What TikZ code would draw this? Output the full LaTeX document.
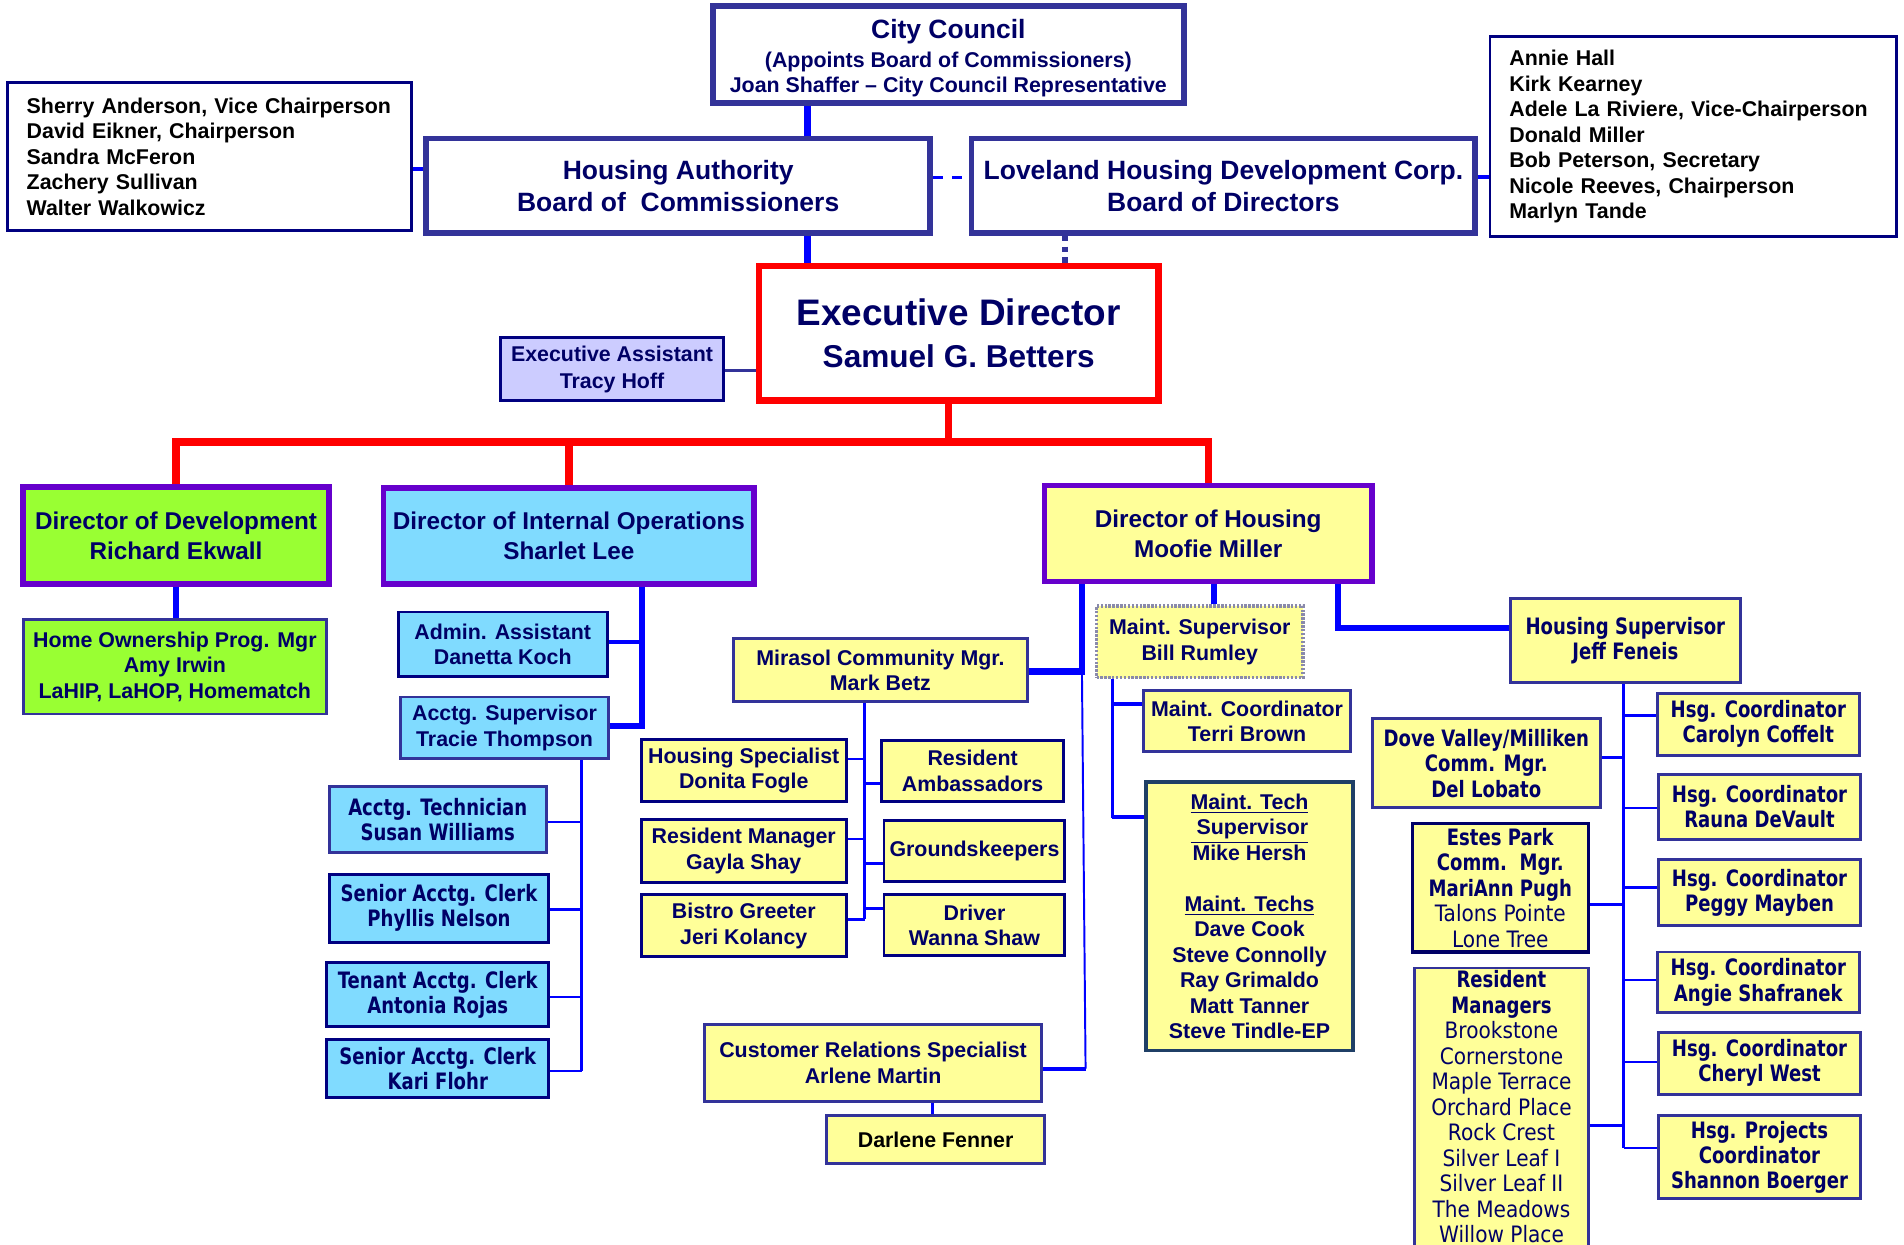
\documentclass[tikz,border=0pt]{standalone}
\usepackage{fontspec}
\setmainfont{Liberation Sans}
\newfontfamily\vdfont[FakeStretch=0.8]{DejaVu Sans}
\newfontfamily\vdreg[FakeStretch=0.89]{DejaVu Sans}
\usetikzlibrary{calc}
\definecolor{navy}{HTML}{000066}
\definecolor{bdA}{HTML}{333399}
\definecolor{bdB}{HTML}{000080}
\definecolor{teal}{HTML}{1F3F66}
\definecolor{lnk}{HTML}{0000FF}
\definecolor{purp}{HTML}{6600CC}
\definecolor{yel}{HTML}{FFFF99}
\definecolor{cya}{HTML}{80DBFF}
\definecolor{grn}{HTML}{99FF33}
\definecolor{lav}{HTML}{CCCCFF}
\definecolor{dotgray}{HTML}{8A8AAA}
\newcommand\ffa{\fontsize{8.8}{10.5}\selectfont\bfseries}
\newcommand\ffd{\fontsize{10}{12.3}\selectfont\bfseries}
\newcommand\ffh{\fontsize{10.9}{13}\selectfont\bfseries}
\newcommand\ffv{\vdfont\fontsize{9.3}{10.3}\selectfont\bfseries}
\newcommand\ffvr{\vdfont\fontsize{9.3}{10.5}\selectfont\bfseries}
\newcommand\rl{\vdreg\fontsize{9.3}{10.5}\selectfont\mdseries}
\newcommand\bx[7]{\node[#6, minimum width={(#4-#2)*0.5pt}, minimum height={(#5-#3)*0.5pt}] (#1) at ({(#2+#4)/2},{(#3+#5)/2}) {#7};}
\tikzset{
  box/.style={draw, rectangle, inner sep=0pt, align=center, text=navy},
  topbox/.style={box, draw=bdA, line width=2.4pt, fill=white, font=\ffh},
  mem/.style={box, draw=bdB, line width=1.1pt, fill=white, text=black, font=\ffa, align=left, inner xsep=8pt},
  dirbox/.style={box, draw=purp, line width=2.2pt, font=\ffd},
  ybox/.style={box, draw=bdA, line width=1.2pt, fill=yel, font=\ffa},
  yboxd/.style={ybox, draw=bdB},
  cbox/.style={box, draw=bdA, line width=1.2pt, fill=cya, font=\ffa},
  cboxd/.style={cbox, draw=bdB},
  vbox/.style={ybox, font=\ffv},
  bthick/.style={draw=lnk, line width=2.5pt},
  bmid/.style={draw=lnk, line width=1.6pt},
  bthin/.style={draw=lnk, line width=1.1pt},
  bhair/.style={draw=lnk, line width=0.8pt},
  redl/.style={draw=red, line width=3pt},
}
\begin{document}
\begin{tikzpicture}[x=0.5pt,y=-0.5pt]
\useasboundingbox (0,0) rectangle (1568,1025.3);
\clip (0,0) rectangle (1568,1025.3);
% ---------- top level ----------
\bx{cc}{587}{5}{975}{85}{topbox, font=\ffa}{\ffh\rule{0pt}{11pt}City Council\\[1.2pt](Appoints Board of Commissioners)\\Joan Shaffer – City Council Representative}
\node[mem, text width=150.5pt, minimum height={122*0.5pt}] (mleft) at ({(6+339)/2},{(68+190)/2}) {Sherry Anderson, Vice Chairperson\\David Eikner, Chairperson\\Sandra McFeron\\Zachery Sullivan\\Walter Walkowicz};
\node[mem, text width=151.5pt, minimum height={165*0.5pt}] (mright) at ({(1227+1562)/2},{(30+195)/2}) {Annie Hall\\Kirk Kearney\\Adele La Riviere, Vice-Chairperson\\Donald Miller\\Bob Peterson, Secretary\\Nicole Reeves, Chairperson\\Marlyn Tande};
\bx{ha}{351}{114}{766}{192}{topbox}{Housing Authority\\Board of\ \ Commissioners}
\bx{lhdc}{800}{114}{1215}{192}{topbox}{Loveland Housing Development Corp.\\Board of Directors}
\bx{ed}{625}{219}{954}{330}{box, draw=red, line width=2.7pt, fill=white, font=\fontsize{15.2}{17.4}\selectfont\bfseries}{Executive Director\\\fontsize{13}{17}\selectfont Samuel G. Betters}
\bx{ea}{412}{278}{596}{330}{box, draw=bdB, line width=1.1pt, fill=lav, font={\fontsize{8.8}{11}\selectfont\bfseries}}{Executive Assistant\\Tracy Hoff}
% ---------- directors ----------
\bx{dd}{19}{401}{271}{481}{dirbox, fill=grn}{Director of Development\\Richard Ekwall}
\bx{dio}{316}{402}{621}{481}{dirbox, fill=cya}{Director of Internal Operations\\Sharlet Lee}
\bx{dh}{860}{400}{1130}{479}{dirbox, fill=yel}{Director of Housing\\Moofie Miller}
% ---------- development ----------
\bx{hop}{19}{510}{269}{588}{box, draw=bdA, line width=1.2pt, fill=grn, font=\ffa}{Home Ownership Prog. Mgr\\Amy Irwin\\LaHIP, LaHOP, Homematch}
% ---------- internal operations ----------
\bx{aa}{328}{504}{500}{557}{cboxd}{Admin. Assistant\\Danetta Koch}
\bx{as}{330}{574}{501}{625}{cbox}{Acctg. Supervisor\\Tracie Thompson}
\bx{at}{271}{648}{450}{702}{cbox, font=\ffv}{Acctg. Technician\\Susan Williams}
\bx{sac1}{271}{720}{452}{776}{cboxd, font=\ffv}{Senior Acctg. Clerk\\Phyllis Nelson}
\bx{tac}{269}{793}{452}{845}{cboxd, font=\ffv}{Tenant Acctg. Clerk\\Antonia Rojas}
\bx{sac2}{269}{856}{452}{904}{cboxd, font=\ffv}{Senior Acctg. Clerk\\Kari Flohr}
% ---------- housing ----------
\bx{mir}{604}{526}{846}{578}{ybox}{Mirasol Community Mgr.\\Mark Betz}
\bx{hs}{528}{609}{697}{660}{yboxd}{Housing Specialist\\Donita Fogle}
\bx{ra}{726}{610}{876}{660}{yboxd}{Resident\\Ambassadors}
\bx{rm}{528}{675}{697}{727}{yboxd}{Resident Manager\\Gayla Shay}
\bx{gk}{728}{676}{877}{726}{yboxd}{Groundskeepers}
\bx{bg}{528}{737}{697}{788}{yboxd}{Bistro Greeter\\Jeri Kolancy}
\bx{drv}{728}{737}{877}{787}{yboxd}{Driver\\Wanna Shaw}
\bx{crs}{580}{844}{858}{907}{ybox}{Customer Relations Specialist\\Arlene Martin}
\bx{df}{681}{919}{860}{958}{ybox, text=black}{Darlene Fenner}
\bx{ms}{903}{499}{1073}{558}{ybox, draw=dotgray, line width=1.4pt, dash pattern=on 1pt off 0.6pt}{Maint. Supervisor\\Bill Rumley}
\bx{mc}{942}{569}{1112}{619}{ybox}{Maint. Coordinator\\Terri Brown}
\bx{mt}{944}{644}{1114}{865}{ybox, draw=teal, line width=1.5pt}{\underline{Maint. Tech}\\\underline{~Supervisor}\\Mike Hersh\\[10.5pt]\underline{Maint. Techs}\\Dave Cook\\Steve Connolly\\Ray Grimaldo\\Matt Tanner\\Steve Tindle-EP}
\bx{hsup}{1244}{493}{1433}{562}{vbox}{Housing Supervisor\\Jeff Feneis}
\bx{hc1}{1365}{571}{1531}{622}{vbox}{Hsg. Coordinator\\Carolyn Coffelt}
\bx{hc2}{1366}{638}{1532}{691}{vbox}{Hsg. Coordinator\\Rauna DeVault}
\bx{hc3}{1366}{708}{1532}{762}{vbox}{Hsg. Coordinator\\Peggy Mayben}
\bx{hc4}{1365}{784}{1531}{834}{vbox}{Hsg. Coordinator\\Angie Shafranek}
\bx{hc5}{1366}{850}{1532}{901}{vbox}{Hsg. Coordinator\\Cheryl West}
\bx{hpc}{1366}{919}{1532}{987}{vbox}{Hsg. Projects\\Coordinator\\Shannon Boerger}
\bx{dv}{1130}{592}{1318}{665}{vbox, font=\ffvr}{Dove Valley/Milliken\\Comm. Mgr.\\Del Lobato}
\bx{ep}{1163}{678}{1308}{784}{vbox, draw=navy, line width=1.3pt, font=\ffvr}{Estes Park\\Comm.\ \ Mgr.\\MariAnn Pugh\\\rl Talons Pointe\\\rl Lone Tree}
\node[vbox, font=\ffvr, anchor=north, minimum width={143*0.5pt}, minimum height={250*0.5pt}, text depth=0pt] (rmg) at ({(1165+1308)/2},796) {};
\node[text=navy, font=\ffvr, align=center, anchor=north, inner sep=0pt] (rmgt) at ($(rmg.north)+(0,3)$) {Resident\\Managers\\\rl Brookstone\\\rl Cornerstone\\\rl Maple Terrace\\\rl Orchard Place\\\rl Rock Crest\\\rl Silver Leaf I\\\rl Silver Leaf II\\\rl The Meadows\\\rl Willow Place};
% ---------- guide coordinates ----------
\coordinate (gA) at (665,0);
\coordinate (gB) at (0,139);
\coordinate (gC) at (0,146);
\coordinate (gD) at (877,0);
\coordinate (gE) at (0,305);
\coordinate (gF) at (781,0);
\coordinate (gG) at (0,364);
\coordinate (gH) at (529,0);
\coordinate (gK) at (479,0);
\coordinate (gM) at (891,0);
\coordinate (gN) at (894,880);
\coordinate (gO) at (712,0);
\coordinate (gP) at (768,0);
\coordinate (gQ) at (1000,0);
\coordinate (gR) at (916,0);
\coordinate (gS) at (1102,0);
\coordinate (gT) at (1337,0);
% ---------- connectors: top ----------
\draw[bthick] (cc.south -| gA) -- (ha.north -| gA);
\draw[bmid] (mleft.east |- gB) -- (ha.west |- gB);
\draw[draw=lnk, line width=1.1pt, dash pattern=on 4pt off 4pt] (ha.east |- gC) -- (lhdc.west |- gC);
\draw[bmid] (lhdc.east |- gC) -- (mright.west |- gC);
\draw[bthick] (ha.south -| gA) -- (ed.north -| gA);
\draw[draw=bdA, line width=2.2pt, dash pattern=on 2.2pt off 2.2pt] (lhdc.south -| gD) -- (ed.north -| gD);
\draw[draw=bdA, line width=1.1pt] (ea.east |- gE) -- (ed.west |- gE);
% ---------- red bus ----------
\draw[redl] (ed.south -| gF) -- (gF |- gG);
\draw[redl] (dd.north) -- (dd.north |- gG) -- (dh.north |- gG) -- (dh.north);
\draw[redl] (dio.north) -- (dio.north |- gG);
% ---------- development ----------
\draw[bthick] (dd.south) -- (dd.south |- hop.north);
% ---------- internal operations ----------
\draw[bthick] (dio.south -| gH) -- (gH |- 0,598) -- (as.east |- 0,598);
\draw[bmid] (aa.east |- 0,529) -- (gH |- 0,529);
\draw[bthin] (as.south -| gK) -- (gK |- 0,882);
\draw[bthin] (at.east |- 0,677) -- (gK |- 0,677);
\draw[bthin] (sac1.east |- 0,749) -- (gK |- 0,749);
\draw[bthin] (tac.east |- 0,821) -- (gK |- 0,821);
\draw[bthin] (sac2.east |- 0,882) -- (gK |- 0,882);
% ---------- housing ----------
\draw[bthick] (dh.south -| gM) -- (gM |- 0,553) -- (mir.east |- 0,553);
\draw[bhair] (gM |- 0,553) -- (gN);
\draw[bmid] (gN) -- (crs.east |- gN);
\draw[bthin] (mir.south -| gO) -- (gO |- 0,757);
\draw[bthin] (hs.east |- 0,625) -- (gO |- 0,625);
\draw[bthin] (ra.west |- 0,645) -- (gO |- 0,645);
\draw[bthin] (rm.east |- 0,691) -- (gO |- 0,691);
\draw[bthin] (gk.west |- 0,711) -- (gO |- 0,711);
\draw[bthin] (bg.east |- 0,757) -- (gO |- 0,757);
\draw[bthin] (drv.west |- 0,748) -- (gO |- 0,748);
\draw[bthin] (crs.south -| gP) -- (df.north -| gP);
\draw[bthick] (dh.south -| gQ) -- (ms.north -| gQ);
\draw[bthin] (ms.south -| gR) -- (gR |- 0,674);
\draw[bmid] (mc.west |- 0,580) -- (gR |- 0,580);
\draw[bmid] (mt.west |- 0,673) -- (gR |- 0,673);
\draw[bthick] (dh.south -| gS) -- (gS |- 0,517) -- (hsup.west |- 0,517);
\draw[bthin] (hsup.south -| gT) -- (gT |- 0,945.5);
\draw[bthin] (hc1.west |- 0,589) -- (gT |- 0,589);
\draw[bthin] (dv.east |- 0,624) -- (gT |- 0,624);
\draw[bthin] (hc2.west |- 0,665.5) -- (gT |- 0,665.5);
\draw[bthin] (hc3.west |- 0,731) -- (gT |- 0,731);
\draw[bthin] (ep.east |- 0,745) -- (gT |- 0,745);
\draw[bthin] (hc4.west |- 0,807) -- (gT |- 0,807);
\draw[bthin] (hc5.west |- 0,874.6) -- (gT |- 0,874.6);
\draw[bthin] (rmg.east |- 0,927) -- (gT |- 0,927);
\draw[bthin] (hpc.west |- 0,945.5) -- (gT |- 0,945.5);
\end{tikzpicture}
\end{document}
